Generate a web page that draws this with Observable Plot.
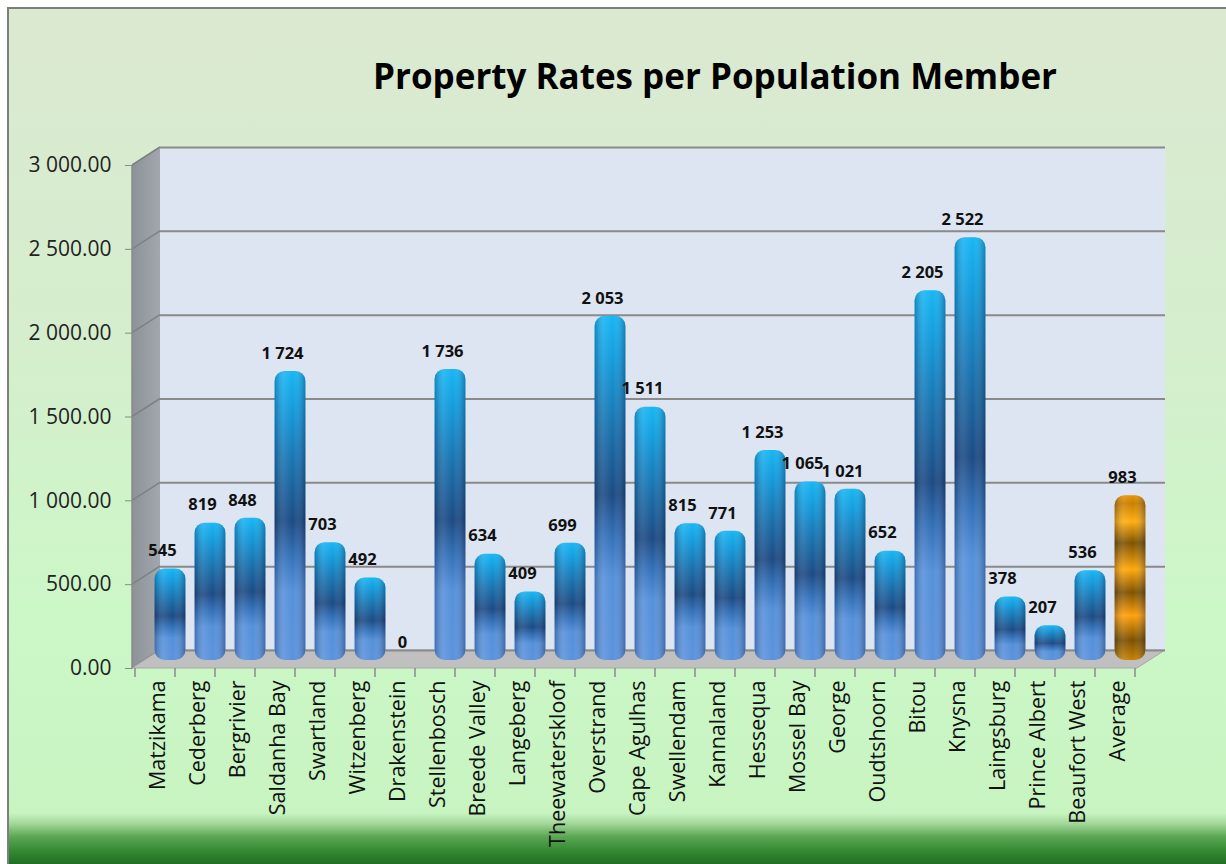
<!DOCTYPE html>
<html>
<head>
<meta charset="utf-8">
<script src="https://cdn.jsdelivr.net/npm/d3@7"></script>
<script src="https://cdn.jsdelivr.net/npm/@observablehq/plot@0.6"></script>
<style>
html, body { margin: 0; padding: 0; width: 1226px; height: 864px; overflow: hidden; background: #ffffff; }
#chart { position: relative; width: 1226px; height: 864px; }
#bg {
  position: absolute; left: 7px; top: 7px; right: 0; bottom: 0;
  border-left: 2px solid #7b7e7b; border-top: 2px solid #7b7e7b;
  background: linear-gradient(to bottom, #dbe9d1 0px, #d5eecd 330px, #ccf7c7 600px, #c8f4c2 804px, #a5d99c 814px, #5aa652 828px, #2f8530 844px, #1f6b22 857px);
}
#chart svg { position: absolute; left: 0; top: 0; }
</style>
</head>
<body>
<div id="chart"><div id="bg"></div></div>
<script>
const categories = ["Matzikama", "Cederberg", "Bergrivier", "Saldanha Bay", "Swartland", "Witzenberg", "Drakenstein", "Stellenbosch", "Breede Valley", "Langeberg", "Theewaterskloof", "Overstrand", "Cape Agulhas", "Swellendam", "Kannaland", "Hessequa", "Mossel Bay", "George", "Oudtshoorn", "Bitou", "Knysna", "Laingsburg", "Prince Albert", "Beaufort West", "Average"];
const values = [545, 819, 848, 1724, 703, 492, 0, 1736, 634, 409, 699, 2053, 1511, 815, 771, 1253, 1065, 1021, 652, 2205, 2522, 378, 207, 536, 983];
const yTicks = [0, 500, 1000, 1500, 2000, 2500, 3000];
const averageName = "Average";
const title = "Property Rates per Population Member";

const data = categories.map((name, i) => ({name, value: values[i]}));
const munis = data.filter(d => d.name !== averageName);
const avg = data.filter(d => d.name === averageName);

const DX = 28, DY = -18;      // depth of the 3D box
const BDX = 15, BDY = -8;     // bars sit mid-depth
const fmtTick = d => d3.format(",.2f")(d).replace(/,/g, " ");
const fmtVal = d => d3.format(",")(d).replace(/,/g, " ");

function addGrad(g, id, stops, vertical = true) {
  const lg = g.append("linearGradient").attr("id", id)
    .attr("x1", 0).attr("y1", 0).attr("x2", vertical ? 0 : 1).attr("y2", vertical ? 1 : 0);
  for (const [o, c, a] of stops) lg.append("stop").attr("offset", o).attr("stop-color", c).attr("stop-opacity", a ?? 1);
}

const defs = () => {
  const g = d3.create("svg:defs");
  addGrad(g, "blueGrad", [
    [0, "#17b6f4"], [0.12, "#139ddf"], [0.33, "#1970ad"], [0.52, "#1c4a84"],
    [0.64, "#3370b8"], [0.76, "#5590da"], [1, "#5b92dc"]
  ]);
  addGrad(g, "orangeGrad", [
    [0, "#e89400"], [0.05, "#c98000"], [0.16, "#ffad10"], [0.29, "#7d5200"],
    [0.45, "#ffa80a"], [0.59, "#7d5200"], [0.73, "#ffa00a"], [0.88, "#7a5000"], [1, "#c88000"]
  ]);
  addGrad(g, "shadeGrad", [
    [0, "#001030", 0.28], [0.3, "#ffffff", 0.1], [0.6, "#ffffff", 0], [1, "#001030", 0.32]
  ], false);
  addGrad(g, "wallGrad", [[0, "#8b9298"], [1, "#a1a7ad"]], false);
  return g.node();
};

const box = (index, scales, vals, dim) => {
  const {x, y} = scales;
  const x0 = dim.marginLeft, x1 = dim.width - dim.marginRight;
  const y0 = y(0), yT = y(d3.max(yTicks));
  const g = d3.create("svg:g");
  // back wall
  g.append("rect").attr("x", x0 + DX).attr("y", yT + DY).attr("width", x1 - x0).attr("height", y0 - yT)
    .attr("fill", "#dce5f1");
  // left wall
  g.append("polygon").attr("points", [[x0, yT], [x0 + DX, yT + DY], [x0 + DX, y0 + DY], [x0, y0]].join(" "))
    .attr("fill", "url(#wallGrad)");
  for (const t of yTicks) {
    g.append("line").attr("x1", x0).attr("y1", y(t)).attr("x2", x0 + DX).attr("y2", y(t) + DY)
      .attr("stroke", "#7f8082").attr("stroke-width", 1.5);
  }
  // floor
  g.append("polygon").attr("points", [[x0, y0], [x1, y0], [x1 + DX, y0 + DY], [x0 + DX, y0 + DY]].join(" "))
    .attr("fill", "#c0c0c0").attr("stroke", "#a6a6a6").attr("stroke-width", 1);
  // value axis line
  g.append("line").attr("x1", x0).attr("y1", yT).attr("x2", x0).attr("y2", y0)
    .attr("stroke", "#8a8a8a").attr("stroke-width", 1.5);
  // category boundary ticks
  const bounds = x.domain().map(c => x(c)).concat([x(x.domain().at(-1)) + x.bandwidth()]);
  for (const bx of bounds) {
    g.append("line").attr("x1", bx).attr("y1", y0).attr("x2", bx).attr("y2", y0 + 9)
      .attr("stroke", "#8a8a8a").attr("stroke-width", 1.5);
  }
  return g.node();
};

const chart = Plot.plot({
  width: 1226,
  height: 864,
  marginLeft: 132,
  marginRight: 89,
  marginTop: 165,
  marginBottom: 196,
  style: {background: "transparent", fontFamily: "'Open Sans', sans-serif", fontSize: "20px", color: "#1a1a1a", overflow: "visible"},
  x: {domain: categories, padding: 0, label: null},
  y: {domain: [0, 3000], label: null},
  marks: [
    defs,
    box,
    Plot.ruleY(yTicks, {dx: DX, dy: DY, stroke: "#8a8a8a", strokeWidth: 2}),
    Plot.barY(munis, {x: "name", y: "value", fill: "url(#blueGrad)", insetLeft: 4.6, insetRight: 4.6, dx: BDX, dy: BDY, rx: 10}),
    Plot.barY(avg, {x: "name", y: "value", fill: "url(#orangeGrad)", insetLeft: 4.6, insetRight: 4.6, dx: BDX, dy: BDY, rx: 10}),
    Plot.barY(data, {x: "name", y: "value", fill: "url(#shadeGrad)", insetLeft: 4.6, insetRight: 4.6, dx: BDX, dy: BDY, rx: 10}),
    Plot.text(data, {x: "name", y: "value", text: d => fmtVal(d.value), dx: 7, dy: -26, fontSize: 16.5, fontWeight: "bold", fill: "#111"}),
    Plot.axisY(yTicks, {tickFormat: fmtTick, tickSize: 7, tickPadding: 14, fontSize: 21, stroke: "#8a8a8a", fill: "#222", label: null}),
    Plot.axisX({tickRotate: -90, tickSize: 0, tickPadding: 12, fontSize: 21.5, fill: "#111", label: null, dx: 3}),
    Plot.text([title], {frameAnchor: "top", dx: 80, dy: -77, lineAnchor: "bottom", fontSize: 35, fontWeight: "bold", fill: "#000"})
  ]
});
document.getElementById("chart").appendChild(chart);
</script>
</body>
</html>
